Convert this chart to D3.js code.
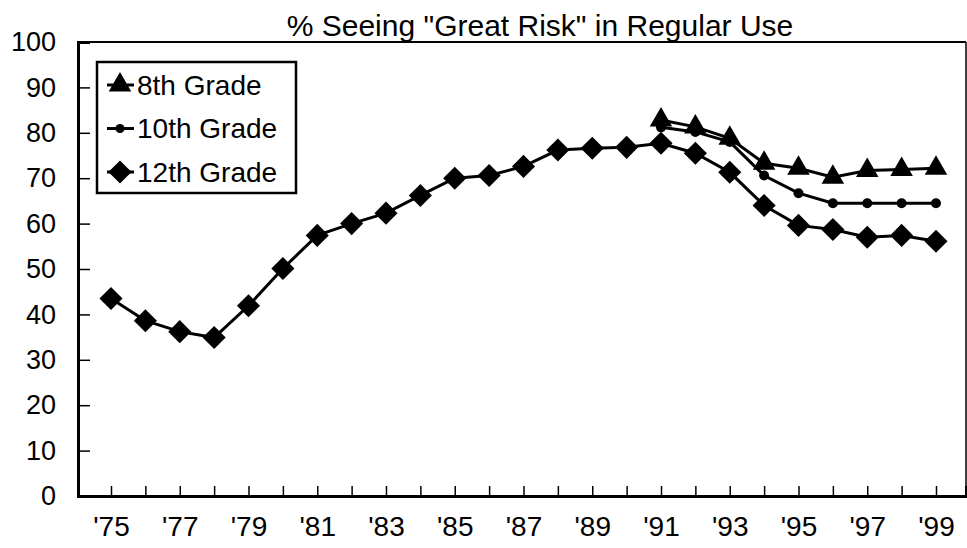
<!DOCTYPE html>
<html>
<head>
<meta charset="utf-8">
<script src="https://cdn.jsdelivr.net/npm/d3@7"></script>
<style>
  body { margin: 0; background: #fff; }
  svg { display: block; }
</style>
</head>
<body>
<div id="drawing"></div>
<script>
// values
const years = d3.range(1975, 2000);
const grade12 = [43.5, 38.6, 36.2, 34.9, 41.9, 50.1, 57.4, 60.0, 62.3, 66.2, 70.0, 70.6, 72.6,
  76.2, 76.6, 76.8, 77.7, 75.5, 71.3, 64.0, 59.6, 58.7, 57.0, 57.4, 56.1];
const years8_10 = d3.range(1991, 2000);
const grade8 = [82.8, 81.3, 78.8, 73.3, 72.2, 70.2, 71.7, 71.9, 72.2];
const grade10 = [81.2, 80.2, 78.0, 70.6, 66.7, 64.5, 64.5, 64.5, 64.5];
const yTicks = [0, 10, 20, 30, 40, 50, 60, 70, 80, 90, 100];
const legendLabels = ["8th Grade", "10th Grade", "12th Grade"];

const W = 967, H = 548;
const mLeft = 78, mRight = 966, mTop = 42, mBottom = 496;
const font = "'Liberation Sans', Arial, Helvetica, sans-serif";

const svg = d3.select("#drawing").append("svg")
  .attr("width", W).attr("height", H)
  .style("font-family", font);

const x = d3.scaleLinear().domain([1974.04, 1999.873]).range([mLeft, mRight]);
const y = d3.scaleLinear().domain([0, 100]).range([mBottom, mTop]);

// title
svg.append("text")
  .attr("x", 540).attr("y", 36)
  .attr("text-anchor", "middle")
  .attr("font-size", 30)
  .text('% Seeing "Great Risk" in Regular Use');

// frame: top and right
svg.append("line").attr("x1", mLeft).attr("x2", mRight).attr("y1", mTop).attr("y2", mTop)
  .attr("stroke", "#000").attr("stroke-width", 2);
svg.append("line").attr("x1", mRight).attr("x2", mRight).attr("y1", mTop).attr("y2", mBottom)
  .attr("stroke", "#000").attr("stroke-width", 1.5);

// y axis
const yAxis = svg.append("g")
  .attr("transform", `translate(${mLeft},0)`)
  .call(d3.axisLeft(y).tickValues(yTicks).tickSize(-12).tickPadding(22));
yAxis.select(".domain").attr("stroke-width", 3);
yAxis.selectAll(".tick line").attr("stroke-width", 1.5)
  .filter((d) => d === 0 || d === 100).remove();
yAxis.selectAll("text").attr("font-size", 27).attr("font-family", font).attr("fill", "#000");

// x axis
const xAxis = svg.append("g")
  .attr("transform", `translate(0,${mBottom})`)
  .call(d3.axisBottom(x).tickValues(years).tickSize(-10).tickPadding(20)
    .tickFormat((d) => (d % 2 === 1 ? "'" + String(d).slice(2) : "")));
xAxis.select(".domain").attr("stroke-width", 3);
xAxis.selectAll(".tick line").attr("stroke-width", 1.5);
xAxis.selectAll("text").attr("font-size", 28).attr("font-family", font).attr("fill", "#000");

const line = d3.line().x((d) => x(d[0])).y((d) => y(d[1]));
const diamond = d3.symbol().type(d3.symbolDiamond2).size(340);
const triangle = d3.symbol().type(d3.symbolTriangle).size(220);

const s12 = years.map((yr, i) => [yr, grade12[i]]);
const s8 = years8_10.map((yr, i) => [yr, grade8[i]]);
const s10 = years8_10.map((yr, i) => [yr, grade10[i]]);

[s12, s10, s8].forEach((s) => {
  svg.append("path").datum(s).attr("d", line)
    .attr("fill", "none").attr("stroke", "#000").attr("stroke-width", 3);
});

svg.selectAll("path.m12").data(s12).enter().append("path")
  .attr("class", "m12")
  .attr("transform", (d) => `translate(${x(d[0])},${y(d[1])})`)
  .attr("d", diamond);

svg.selectAll("circle.m10").data(s10).enter().append("circle")
  .attr("class", "m10")
  .attr("cx", (d) => x(d[0])).attr("cy", (d) => y(d[1])).attr("r", 5);

svg.selectAll("path.m8").data(s8).enter().append("path")
  .attr("class", "m8")
  .attr("transform", (d) => `translate(${x(d[0])},${y(d[1])})`)
  .attr("d", triangle);

// legend
const lg = svg.append("g");
lg.append("rect")
  .attr("x", 97).attr("y", 62).attr("width", 199).attr("height", 131)
  .attr("fill", "#fff").attr("stroke", "#000").attr("stroke-width", 2.5);

const legendMarks = [triangle, null, diamond];
legendLabels.forEach((label, i) => {
  const cy = 85 + i * 43.5;
  lg.append("line").attr("x1", 107).attr("x2", 134).attr("y1", cy).attr("y2", cy)
    .attr("stroke", "#000").attr("stroke-width", 3);
  if (legendMarks[i]) {
    lg.append("path").attr("transform", `translate(120,${cy})`).attr("d", legendMarks[i]);
  } else {
    lg.append("circle").attr("cx", 120).attr("cy", cy).attr("r", 4.5);
  }
  lg.append("text")
    .attr("x", 137).attr("y", cy)
    .attr("dy", "0.35em")
    .attr("font-size", 28)
    .text(label);
});
</script>
</body>
</html>
